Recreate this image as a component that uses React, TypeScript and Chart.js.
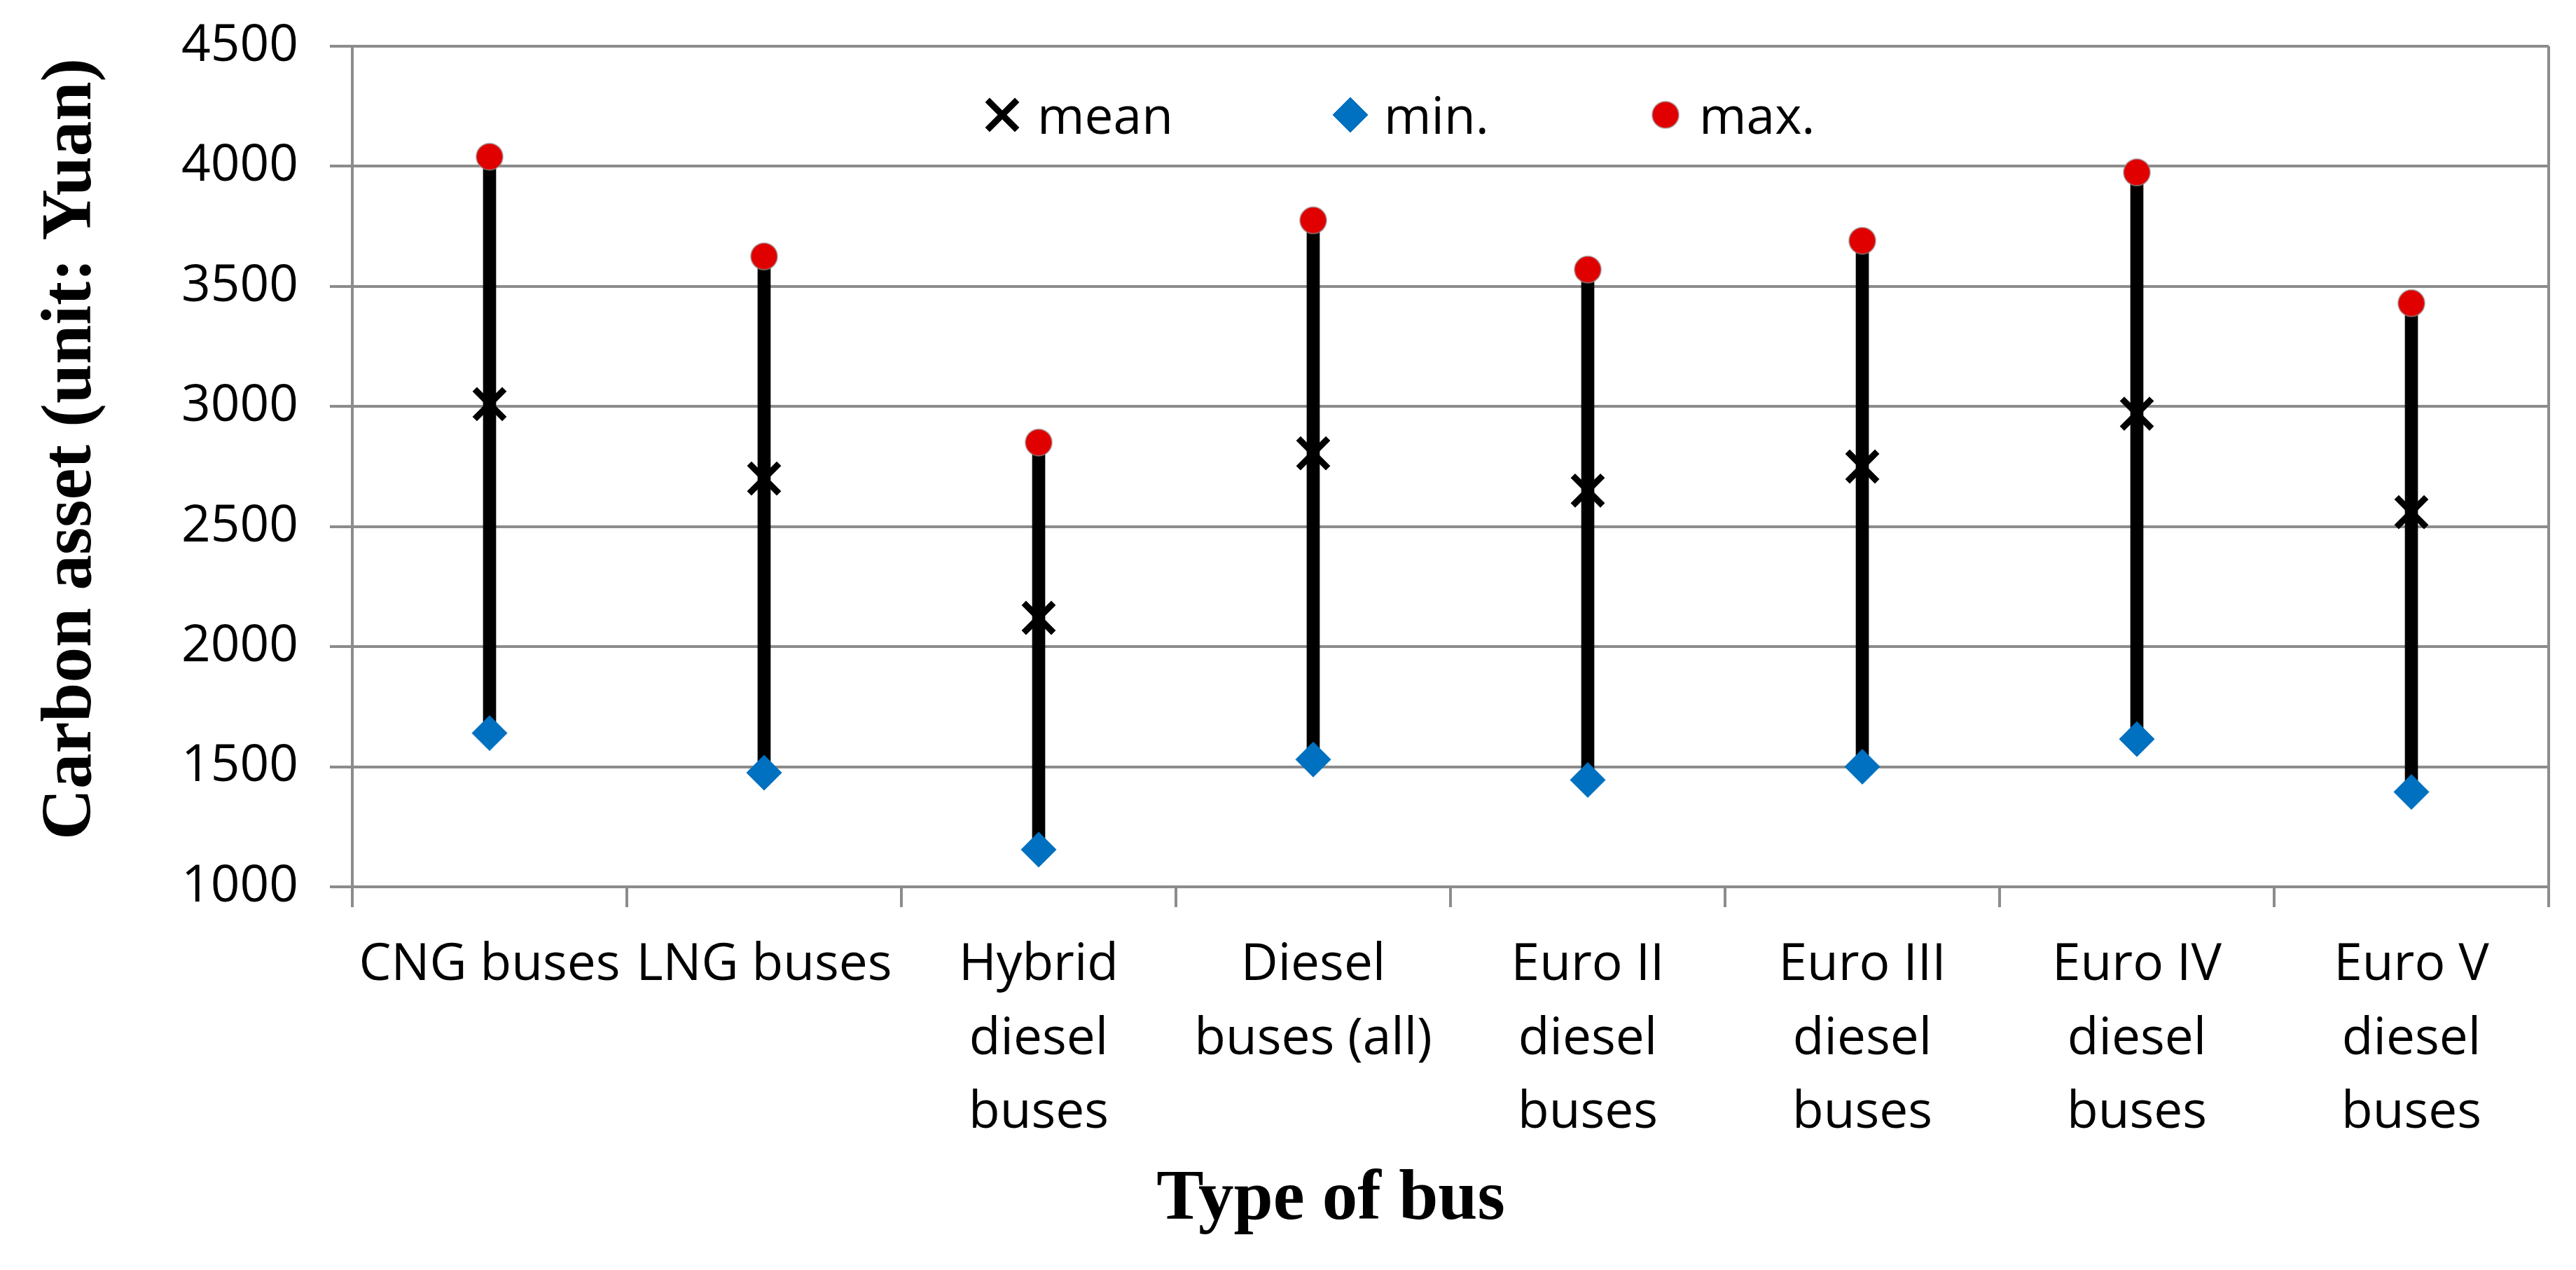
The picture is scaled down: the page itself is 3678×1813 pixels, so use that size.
import React, { useEffect, useRef } from 'react';
import { Chart, registerables } from 'chart.js';
import { drawPoint } from 'chart.js/helpers';

Chart.register(...registerables);

// ---------------- data ----------------
const categories: (string | string[])[] = [
  'CNG buses',
  'LNG buses',
  ['Hybrid', 'diesel', 'buses'],
  ['Diesel', 'buses (all)'],
  ['Euro II', 'diesel', 'buses'],
  ['Euro III', 'diesel', 'buses'],
  ['Euro IV', 'diesel', 'buses'],
  ['Euro V', 'diesel', 'buses'],
];
const meanValues = [3010, 2700, 2120, 2805, 2650, 2750, 2970, 2560];
const minValues = [1640, 1475, 1155, 1530, 1445, 1500, 1615, 1395];
const maxValues = [4040, 3625, 2850, 3775, 3570, 3690, 3975, 3430];
const seriesNames = ['mean', 'min.', 'max.'];
const yMin = 1000;
const yMax = 4500;
const yStep = 500;
const yTitle = 'Carbon asset (unit: Yuan)';
const xTitle = 'Type of bus';

// ---------------- styles ----------------
const W = 3678;
const H = 1813;
const GRID = '#8c8c8c';
const SANS = '"Open Sans", "Noto Sans", sans-serif';
const SERIF = '"Liberation Serif", "Times New Roman", serif';

const decorations = {
  id: 'decorations',
  afterDraw(chart: any) {
    const { ctx } = chart;
    // y-axis title
    ctx.save();
    ctx.font = `bold 101px ${SERIF}`;
    ctx.fillStyle = '#000';
    ctx.textAlign = 'center';
    ctx.textBaseline = 'alphabetic';
    ctx.translate(129, 641);
    ctx.rotate(-Math.PI / 2);
    ctx.fillText(yTitle, 0, 0);
    ctx.restore();

    // x-axis title
    ctx.save();
    ctx.font = `bold 101px ${SERIF}`;
    ctx.fillStyle = '#000';
    ctx.textAlign = 'center';
    ctx.textBaseline = 'alphabetic';
    ctx.fillText(xTitle, 1900, 1740);
    ctx.restore();

    // legend inside plot area
    const markerX = [1431, 1928, 2378];
    const textX = [1481, 1976, 2426];
    const markerY = 164;
    const textBase = 191;
    for (let i = 0; i < 3; i++) {
      const ds: any = chart.data.datasets[i];
      ctx.save();
      ctx.fillStyle = ds.pointBackgroundColor;
      ctx.strokeStyle = ds.pointBorderColor;
      ctx.lineWidth = ds.pointBorderWidth;
      drawPoint(ctx, { pointStyle: ds.pointStyle, rotation: 0, radius: ds.pointRadius, borderWidth: ds.pointBorderWidth }, markerX[i], markerY);
      ctx.restore();
      ctx.save();
      ctx.font = `73px ${SANS}`;
      ctx.fillStyle = '#000';
      ctx.textAlign = 'left';
      ctx.textBaseline = 'alphabetic';
      ctx.fillText(seriesNames[i], textX[i], textBase);
      ctx.restore();
    }
  },
};

export default function App() {
  const ref = useRef<HTMLCanvasElement | null>(null);

  useEffect(() => {
    document.body.style.margin = '0';
    const canvas = ref.current;
    if (!canvas) return;
    const chart = new Chart(canvas, {
      type: 'bar',
      data: {
        labels: categories as any,
        datasets: [
          {
            type: 'line',
            label: seriesNames[0],
            data: meanValues,
            showLine: false,
            pointStyle: 'crossRot',
            pointRadius: 30,
            pointBorderWidth: 9,
            pointBorderColor: '#000000',
            pointBackgroundColor: '#000000',
          } as any,
          {
            type: 'line',
            label: seriesNames[1],
            data: minValues,
            showLine: false,
            pointStyle: 'rectRot',
            pointRadius: 25,
            pointBorderWidth: 1,
            pointBorderColor: '#0070C0',
            pointBackgroundColor: '#0070C0',
          } as any,
          {
            type: 'line',
            label: seriesNames[2],
            data: maxValues,
            showLine: false,
            pointStyle: 'circle',
            pointRadius: 19,
            pointBorderWidth: 2,
            pointBorderColor: 'rgba(150,150,150,0.6)',
            pointBackgroundColor: '#E00000',
          } as any,
          {
            type: 'bar',
            label: 'range',
            data: minValues.map((v, i) => [v, maxValues[i]]),
            backgroundColor: '#000000',
            borderWidth: 0,
            barThickness: 18,
          } as any,
        ],
      },
      options: {
        animation: false,
        responsive: false,
        devicePixelRatio: 1,
        events: [],
        layout: { padding: { top: 66, right: 35, left: 0, bottom: 0 } },
        plugins: {
          legend: { display: false },
          tooltip: { enabled: false },
          title: { display: false },
        },
        scales: {
          x: {
            type: 'category',
            offset: true,
            grid: {
              offset: true,
              drawOnChartArea: true,
              color: (c: any) => (c.type === 'scale' ? GRID : 'rgba(0,0,0,0)'),
              tickColor: GRID,
              lineWidth: 4,
              tickLength: 29,
            },
            border: { display: true, color: GRID, width: 4 },
            ticks: {
              autoSkip: false,
              maxRotation: 0,
              minRotation: 0,
              color: '#000',
              padding: 30,
              font: { family: SANS, size: 73, lineHeight: 1.45 },
            },
            afterFit: (s: any) => {
              s.height = H - 1266;
              s.paddingLeft = 0;
              s.paddingRight = 0;
            },
          },
          y: {
            min: yMin,
            max: yMax,
            grid: { color: GRID, lineWidth: 4, tickLength: 32, tickColor: GRID },
            border: { display: true, color: GRID, width: 4 },
            ticks: {
              stepSize: yStep,
              color: '#000',
              padding: 45,
              font: { family: SANS, size: 73 },
              callback: (v: any) => String(v),
            },
            afterFit: (s: any) => {
              s.width = 503;
              s.paddingTop = 0;
              s.paddingBottom = 0;
            },
          },
        },
      } as any,
      plugins: [decorations],
    });
    return () => chart.destroy();
  }, []);

  return (
    <div style={{ width: W, height: H, overflow: 'hidden', background: '#fff' }}>
      <canvas ref={ref} width={W} height={H} style={{ display: 'block', width: W, height: H }} />
    </div>
  );
}
